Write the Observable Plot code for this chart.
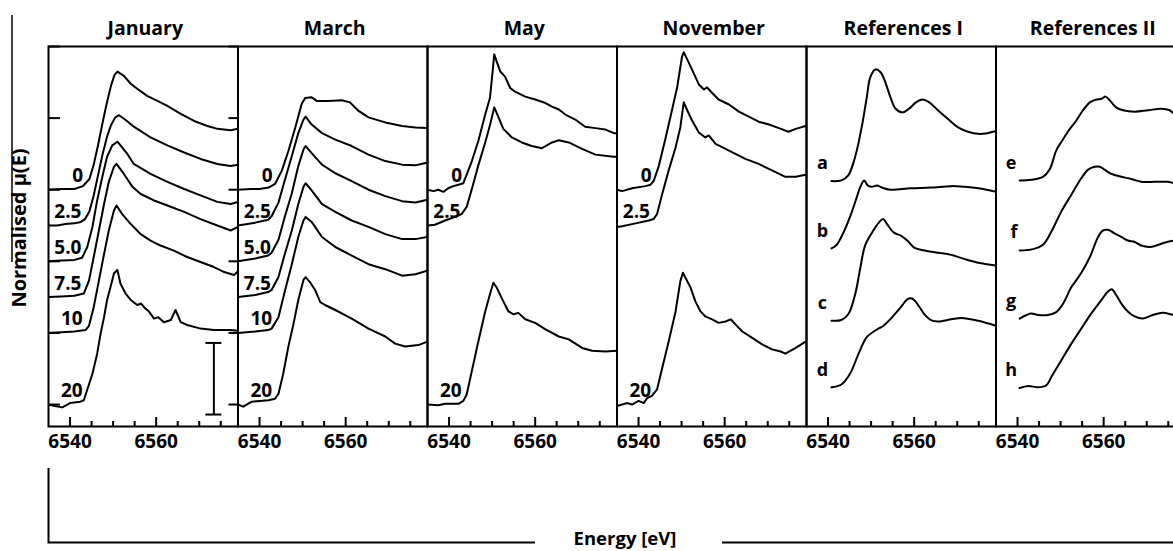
<!DOCTYPE html>
<html><head><meta charset="utf-8">
<script src="https://cdn.jsdelivr.net/npm/d3@7"></script>
<script src="https://cdn.jsdelivr.net/npm/@observablehq/plot@0.6"></script>
<style>
html,body{margin:0;padding:0;background:#fff;overflow:hidden;}
#chart{position:relative;width:1185px;height:551px;}
</style></head><body><div id="chart"></div>
<script>
// ---- categories / labels ----
const panels = ["January","March","May","November","References I","References II"];
const depths = ["0","2.5","5.0","7.5","10","20"];
const depthOffset = [3, 2.5, 2, 1.5, 1, 0];
const depthLabelEnergy = [6541.8, 6539.5, 6539.5, 6539.5, 6540.4, 6540.4];
const depthLabelLift = 0.19;
const refNames = ["a","b","c","d","e","f","g","h"];
const refPanel = ["References I","References I","References I","References I","References II","References II","References II","References II"];
const refOffset = [3.13, 2.18, 1.17, 0.24, 3.13, 2.16, 1.2, 0.24];
const refLabelEnergy = [6538.7, 6538.7, 6538.7, 6538.7, 6538.5, 6539.2, 6538.5, 6538.5];
const refLabelLift = 0.24;
const xTicksMajor = [6540, 6560];
const xTicksMinor = [6545, 6550, 6555, 6565, 6570, 6575];
const yTicks = [0, 1, 2, 3, 4, 5];
const scaleBar = {energy: 6573.4, from: -0.14, to: 0.86};

// ---- series: [energy eV, normalised mu(E) above its baseline] ----
const jan0 = [[6535,0],[6538,0.01],[6541,0.01],[6543,0.05],[6544.5,0.15],[6545.5,0.35],[6546.5,0.62],[6547.5,0.92],[6548.5,1.2],[6549.5,1.45],[6550.3,1.6],[6551,1.65],[6552.5,1.59],[6554.1,1.48],[6555.6,1.41],[6557.9,1.31],[6560.3,1.24],[6562.6,1.17],[6565.7,1.06],[6568.8,0.96],[6571.9,0.89],[6574.2,0.85],[6577.3,0.83],[6579,0.85]];
const jan25 = [[6535,0],[6537,0],[6539,0.02],[6541,0.03],[6542.5,0.05],[6543.5,0.09],[6544.5,0.2],[6545.5,0.42],[6546.5,0.7],[6547.5,0.98],[6548.5,1.22],[6549.5,1.4],[6550.5,1.51],[6551.4,1.54],[6553,1.47],[6554.8,1.38],[6558.7,1.23],[6562.6,1.12],[6566.5,1.02],[6570.3,0.93],[6574.2,0.86],[6577.3,0.83],[6579,0.85]];
const jan50 = [[6535,0],[6538,0.01],[6541,0.02],[6542.8,0.05],[6544,0.2],[6545.2,0.48],[6546.3,0.85],[6547.5,1.18],[6548.6,1.46],[6549.8,1.62],[6551,1.67],[6553.3,1.5],[6554.8,1.36],[6558.7,1.22],[6562.6,1.11],[6566.5,1.01],[6570.3,0.92],[6574.2,0.83],[6577.3,0.8],[6579,0.83]];
const jan75 = [[6535,0],[6538,0.01],[6541,0.02],[6543.2,0.05],[6544.4,0.23],[6545.5,0.56],[6546.7,0.93],[6547.9,1.3],[6549,1.61],[6550.2,1.82],[6550.8,1.86],[6552.5,1.72],[6554.5,1.54],[6556.4,1.44],[6559.5,1.35],[6562.6,1.28],[6566.5,1.19],[6570.3,1.09],[6574.2,1.0],[6577.3,0.93],[6579,0.98]];
const jan10 = [[6535,0],[6538,0.01],[6541,0.02],[6543.6,0.04],[6544.4,0.1],[6545.5,0.36],[6546.7,0.73],[6547.9,1.1],[6549,1.43],[6550.2,1.71],[6550.8,1.78],[6552.1,1.66],[6554.1,1.52],[6556.4,1.38],[6558.7,1.29],[6561,1.22],[6564.1,1.15],[6567.2,1.06],[6570.3,0.99],[6573.4,0.92],[6575.8,0.85],[6578.1,0.81],[6579,0.86]];
const jan20 = [[6535,0],[6536.5,-0.02],[6538.2,-0.04],[6540,0.02],[6542.4,0.04],[6543.2,0.06],[6545.2,0.43],[6546.3,0.71],[6547.1,0.99],[6547.9,1.22],[6548.6,1.46],[6549.4,1.64],[6550.2,1.83],[6551,1.88],[6551.7,1.69],[6552.9,1.55],[6554.1,1.46],[6555.6,1.39],[6556.5,1.41],[6557.2,1.36],[6558.3,1.3],[6559.5,1.2],[6560.5,1.22],[6561.8,1.15],[6563.4,1.18],[6564.5,1.32],[6565.7,1.15],[6567.2,1.11],[6570.3,1.06],[6573.4,1.04],[6577.3,1.04],[6579,1.03]];

const mar0 = [[6535,0],[6538,0.01],[6540,0.01],[6542.1,0.03],[6543.6,0.08],[6545.2,0.27],[6546.7,0.54],[6548.3,0.87],[6549.8,1.2],[6550.6,1.28],[6552.1,1.29],[6553.3,1.24],[6556,1.24],[6559.1,1.25],[6561,1.22],[6563,1.1],[6565.3,1.01],[6569.2,0.94],[6573.1,0.89],[6576.2,0.87],[6579,0.86]];
const mar25 = [[6535,0],[6539,0.04],[6542,0.08],[6542.8,0.13],[6544.4,0.32],[6545.9,0.64],[6547.5,0.97],[6549,1.29],[6550.2,1.48],[6550.7,1.52],[6552.1,1.41],[6554.5,1.29],[6557.6,1.2],[6561.4,1.11],[6565.3,0.99],[6569.2,0.9],[6573.1,0.85],[6576.2,0.84],[6579,0.88]];
const mar50 = [[6535,0],[6539,0.04],[6542,0.08],[6542.8,0.12],[6544.4,0.3],[6545.9,0.63],[6547.5,0.95],[6549,1.33],[6550.2,1.56],[6550.7,1.61],[6552.1,1.51],[6554.5,1.35],[6557.6,1.23],[6561.4,1.12],[6565.3,1.0],[6569.2,0.91],[6573.1,0.84],[6576.2,0.82],[6579,0.86]];
const mar75 = [[6535,0],[6539,0.03],[6542,0.07],[6542.8,0.1],[6544.4,0.28],[6545.9,0.61],[6547.5,0.93],[6549,1.3],[6550.2,1.54],[6550.7,1.59],[6552.1,1.49],[6554.5,1.3],[6557.6,1.19],[6561.4,1.07],[6565.3,0.98],[6569.2,0.88],[6573.1,0.81],[6576.2,0.81],[6579,0.84]];
const mar10 = [[6535,0],[6539,0.02],[6542,0.04],[6542.8,0.06],[6544.4,0.22],[6545.9,0.59],[6547.5,0.96],[6549,1.34],[6550.2,1.57],[6550.7,1.62],[6552.1,1.55],[6554.5,1.34],[6557.6,1.2],[6561.4,1.08],[6565.3,0.96],[6569.2,0.89],[6573.1,0.8],[6576.2,0.82],[6579,0.87]];
const mar20 = [[6535,0],[6536.2,-0.03],[6538.2,0.04],[6542.1,0.06],[6543.6,0.08],[6544.4,0.15],[6545.5,0.43],[6546.7,0.81],[6547.9,1.13],[6549,1.46],[6550.2,1.74],[6550.7,1.78],[6551.7,1.71],[6552.9,1.6],[6554.1,1.43],[6555.2,1.39],[6557.6,1.32],[6561.4,1.2],[6565.3,1.06],[6569.2,0.95],[6571.5,0.85],[6573.8,0.81],[6576.9,0.83],[6579,0.88]];

const may0 = [[6535,0],[6536.4,-0.02],[6537.5,0],[6538.7,-0.03],[6539.8,0.02],[6541,0.05],[6542.2,0.07],[6543.3,0.09],[6544.1,0.21],[6545.3,0.4],[6546.8,0.68],[6548.4,1.05],[6549.5,1.28],[6550.2,1.7],[6550.5,1.89],[6551.3,1.75],[6551.9,1.65],[6553,1.58],[6554.2,1.42],[6555.3,1.37],[6557.7,1.3],[6560,1.26],[6562.4,1.21],[6563.9,1.16],[6565.5,1.12],[6567,1.05],[6569.3,0.98],[6571.6,0.88],[6574,0.86],[6576.3,0.84],[6578.3,0.79],[6579,0.79]];
const may25 = [[6535,0],[6536.7,0.01],[6539.1,0.07],[6541.4,0.12],[6542.9,0.16],[6544.1,0.26],[6545.3,0.51],[6546.8,0.84],[6548.4,1.16],[6549.5,1.4],[6550.5,1.65],[6551.5,1.51],[6552.6,1.35],[6554.6,1.23],[6556.9,1.16],[6559.2,1.11],[6561.6,1.08],[6563.9,1.16],[6565.5,1.19],[6567.8,1.16],[6570.9,1.07],[6574,0.99],[6578.2,0.96],[6579,0.96]];
const may20 = [[6535,0],[6537.5,-0.01],[6539.1,0.01],[6542.2,0.01],[6543.3,0.05],[6544.1,0.14],[6545.3,0.47],[6546.8,0.88],[6548.4,1.3],[6549.5,1.54],[6550.3,1.7],[6551.1,1.63],[6552.2,1.49],[6553.8,1.3],[6555,1.26],[6556.1,1.28],[6557.7,1.19],[6560,1.14],[6562.4,1.05],[6565.5,0.95],[6567.8,0.91],[6570.9,0.79],[6573.2,0.75],[6576.3,0.74],[6579,0.75]];

const nov0 = [[6535,0],[6536.2,-0.02],[6538.5,0.02],[6541.6,0.05],[6542.8,0.07],[6543.5,0.12],[6544.7,0.33],[6546.2,0.7],[6547.8,1.12],[6549,1.44],[6550.1,1.86],[6550.5,1.92],[6551.3,1.82],[6552.4,1.68],[6554,1.47],[6555.2,1.4],[6555.9,1.43],[6557.1,1.35],[6558.6,1.26],[6561,1.19],[6563.3,1.09],[6565.6,1.02],[6567.9,0.95],[6570.3,0.91],[6572.6,0.86],[6574.8,0.81],[6576.5,0.85],[6578.8,0.89]];
const nov25 = [[6535,-0.02],[6536.2,-0.01],[6539.3,0.03],[6542.4,0.07],[6543.5,0.09],[6544.3,0.16],[6545.5,0.44],[6547,0.77],[6548.6,1.09],[6549.7,1.37],[6550.5,1.72],[6551.3,1.61],[6552.4,1.47],[6554,1.3],[6555.5,1.23],[6556.3,1.26],[6557.9,1.14],[6560.2,1.07],[6562.5,1.0],[6564.8,0.93],[6567.9,0.86],[6571,0.77],[6574.1,0.68],[6576.5,0.68],[6578.8,0.71]];
const nov20 = [[6535,-0.02],[6536.2,0],[6537.3,0.02],[6538.5,0],[6540,0.05],[6541.2,0.02],[6542,0.09],[6543.1,0.12],[6544.3,0.21],[6545.5,0.51],[6547,0.88],[6548.6,1.3],[6549.7,1.72],[6550.3,1.84],[6550.9,1.77],[6552.1,1.63],[6553.2,1.44],[6554.4,1.3],[6555.5,1.23],[6557.1,1.19],[6558.6,1.14],[6560.2,1.16],[6561.4,1.19],[6562.5,1.12],[6564.1,1.02],[6566.4,0.93],[6568.7,0.84],[6571,0.77],[6573,0.74],[6574.1,0.71],[6576.5,0.79],[6578.8,0.88]];

const refA = [[6540.8,-0.01],[6543.1,0],[6544.7,0.07],[6546.3,0.33],[6547.8,0.74],[6549,1.16],[6549.8,1.44],[6551,1.55],[6552.2,1.51],[6553.3,1.37],[6554.5,1.16],[6555.7,1.0],[6557.3,0.95],[6558.8,1.0],[6560.4,1.09],[6561.9,1.13],[6563.5,1.09],[6565.5,0.98],[6567.8,0.86],[6570.2,0.74],[6572.5,0.68],[6574.9,0.65],[6577,0.66],[6579,0.69]];
const refB = [[6540.8,0],[6542,0.05],[6543.5,0.21],[6545.1,0.44],[6546.7,0.72],[6547.5,0.86],[6548.4,0.95],[6549.2,0.88],[6550.2,0.86],[6551.4,0.88],[6552.5,0.85],[6554.5,0.82],[6559.2,0.84],[6563.9,0.85],[6568.6,0.87],[6571.8,0.86],[6574.9,0.84],[6579,0.79]];
const refC = [[6540.8,0],[6543.1,0.01],[6544.7,0.09],[6546.3,0.37],[6547.5,0.74],[6548.6,1.05],[6550.2,1.23],[6551.8,1.37],[6552.8,1.42],[6553.7,1.35],[6555.3,1.23],[6556.9,1.19],[6558.4,1.12],[6560,1.02],[6562.4,0.98],[6565.5,0.95],[6568.6,0.92],[6571.8,0.86],[6574.9,0.81],[6579,0.77]];
const refD = [[6540.8,0],[6543.1,0.04],[6545.1,0.19],[6547.1,0.47],[6549,0.7],[6551.4,0.81],[6552.9,0.86],[6554.9,0.98],[6556.9,1.12],[6558.4,1.23],[6559.5,1.24],[6560.8,1.16],[6562.4,1.02],[6563.9,0.94],[6565.5,0.92],[6568.6,0.95],[6571,0.97],[6574.9,0.93],[6579,0.86]];
const refE = [[6540.5,0],[6543.2,0.01],[6545.9,0.05],[6547.5,0.16],[6549,0.42],[6550.2,0.54],[6551.7,0.68],[6553.7,0.84],[6555.2,0.98],[6556.8,1.09],[6558.3,1.13],[6559.5,1.14],[6560.4,1.17],[6561.4,1.12],[6562.9,1.02],[6564.5,0.98],[6567.2,0.96],[6570.3,0.98],[6573.4,1.0],[6575.3,0.98],[6576.4,0.93],[6579,0.9]];
const refF = [[6540.5,-0.01],[6543.6,0.01],[6545.9,0.07],[6547.9,0.26],[6550.2,0.54],[6552.5,0.77],[6554.8,1.0],[6556.4,1.12],[6557.9,1.16],[6559.1,1.16],[6560.2,1.12],[6561.8,1.06],[6564.1,1.02],[6566.4,0.99],[6568.7,0.95],[6571.8,0.95],[6574.9,0.95],[6576.4,0.93],[6579,0.91]];
const refG = [[6540.5,0],[6542.1,0.05],[6543.2,0.07],[6544.8,0.05],[6547.1,0.05],[6549,0.09],[6550.6,0.21],[6552.5,0.44],[6553.7,0.54],[6555.2,0.68],[6556.8,0.86],[6558.7,1.14],[6559.8,1.23],[6561,1.24],[6562.5,1.19],[6564.1,1.14],[6565.6,1.09],[6567.2,1.07],[6568.7,1.02],[6570.7,1.0],[6572.2,1.02],[6574.1,1.06],[6576.4,1.09],[6579,1.1]];
const refH = [[6540.5,-0.01],[6542.5,0.02],[6544.8,0],[6546.7,0.03],[6547.9,0.15],[6550.2,0.38],[6552.5,0.61],[6554.8,0.82],[6557.1,1.03],[6559.5,1.22],[6561,1.34],[6561.9,1.37],[6562.9,1.29],[6564.1,1.17],[6565.6,1.06],[6567.2,0.99],[6569.1,0.96],[6571.4,1.01],[6573.7,1.04],[6576.4,1.01],[6579,1.0]];

const sampleSeries = {
  "January":  [jan0, jan25, jan50, jan75, jan10, jan20],
  "March":    [mar0, mar25, mar50, mar75, mar10, mar20],
  "May":      [may0, may25, null, null, null, may20],
  "November": [nov0, nov25, null, null, null, nov20]
};
const refSeries = [refA, refB, refC, refD, refE, refF, refG, refH];

// ---- tables built from the arrays ----
const sampleRows = [], sampleLabels = [];
for (const [panel, list] of Object.entries(sampleSeries)) {
  list.forEach((pts, i) => {
    if (!pts) return;
    pts.forEach(([e, m]) => sampleRows.push({panel, series: panel + depths[i], energy: e, mu: depthOffset[i] + m}));
    sampleLabels.push({panel, text: depths[i], energy: depthLabelEnergy[i], mu: depthOffset[i] + depthLabelLift});
  });
}
const refRows = [], refLabels = [];
refSeries.forEach((pts, i) => {
  pts.forEach(([e, m]) => refRows.push({panel: refPanel[i], series: refNames[i], energy: e, mu: refOffset[i] + m}));
  refLabels.push({panel: refPanel[i], text: refNames[i], energy: refLabelEnergy[i], mu: refOffset[i] + refLabelLift});
});

const W = 1185, H = 551, ML = 48, MT = 46, MB = 125;
const frameH = H - MT - MB;
const bw = (W - ML) / panels.length;
const FONT = "'Open Sans', 'DejaVu Sans', sans-serif";

const plot = Plot.plot({
  width: W, height: H,
  marginLeft: ML, marginRight: 0, marginTop: MT, marginBottom: MB,
  style: {fontFamily: FONT, fontWeight: "bold", color: "black", background: "white", maxWidth: "none", overflow: "visible"},
  fx: {domain: panels, padding: 0, round: false, axis: null},
  x: {domain: [6535, 6579]},
  y: {domain: [-0.307, 5.0], axis: null},
  marks: [
    Plot.line(sampleRows, {x: "energy", y: "mu", z: "series", fx: "panel", stroke: "black", strokeWidth: 2, strokeLinejoin: "round", clip: true}),
    Plot.line(refRows, {x: "energy", y: "mu", z: "series", fx: "panel", stroke: "black", strokeWidth: 2, curve: "catmull-rom", clip: true}),
    Plot.text(sampleLabels, {x: "energy", y: "mu", text: "text", fx: "panel", fontSize: 19, fontWeight: "bold", fill: "black"}),
    Plot.text(refLabels, {x: "energy", y: "mu", text: "text", fx: "panel", fontSize: 18, fontWeight: "bold", fill: "black"}),
    Plot.text(panels, {fx: d => d, text: d => d, frameAnchor: "top", dy: -25, dx: 2, fontSize: 19.5, fontWeight: "bold", fill: "black"}),
    Plot.axisX({ticks: xTicksMajor, tickSize: 0, tickPadding: 8, fontSize: 19, tickFormat: d => String(d), label: null}),
    Plot.tickX(xTicksMajor, {x: d => d, insetTop: frameH - 9, strokeWidth: 2}),
    Plot.tickX(xTicksMinor, {x: d => d, insetTop: frameH - 5, strokeWidth: 2}),
    Plot.tickY(yTicks, {y: d => d, fx: () => "January", insetRight: bw - 12, strokeWidth: 2}),
    Plot.tickY(yTicks, {y: d => d, fx: () => "January", insetLeft: bw - 9, strokeWidth: 2}),
    Plot.ruleX([scaleBar], {x: "energy", y1: "from", y2: "to", fx: () => "January", strokeWidth: 2}),
    Plot.ruleY([scaleBar.from, scaleBar.to], {y: d => d, x1: scaleBar.energy - 1.85, x2: scaleBar.energy + 1.85, fx: () => "January", strokeWidth: 2}),
    Plot.frame({stroke: "black", strokeWidth: 2})
  ]
});

// outer axis titles and guide lines
const svg = d3.select(plot);
const g = svg.append("g").attr("fill", "none").attr("stroke", "black");
g.append("line").attr("x1", 12).attr("x2", 12).attr("y1", 15).attr("y2", 262).attr("stroke-width", 1.5);
g.append("path").attr("d", "M48.5,468V542.5H535M722,542.5H1185").attr("stroke-width", 2);
svg.append("text").attr("transform", "translate(26,228) rotate(-90)").attr("text-anchor", "middle")
  .attr("font-size", 20).attr("font-weight", "bold").attr("fill", "black").attr("font-family", FONT).text("Normalised μ(E)");
svg.append("text").attr("x", 625).attr("y", 545).attr("text-anchor", "middle")
  .attr("font-size", 18.5).attr("font-weight", "bold").attr("fill", "black").attr("font-family", FONT).text("Energy [eV]");

document.getElementById("chart").append(plot);
</script></body></html>
